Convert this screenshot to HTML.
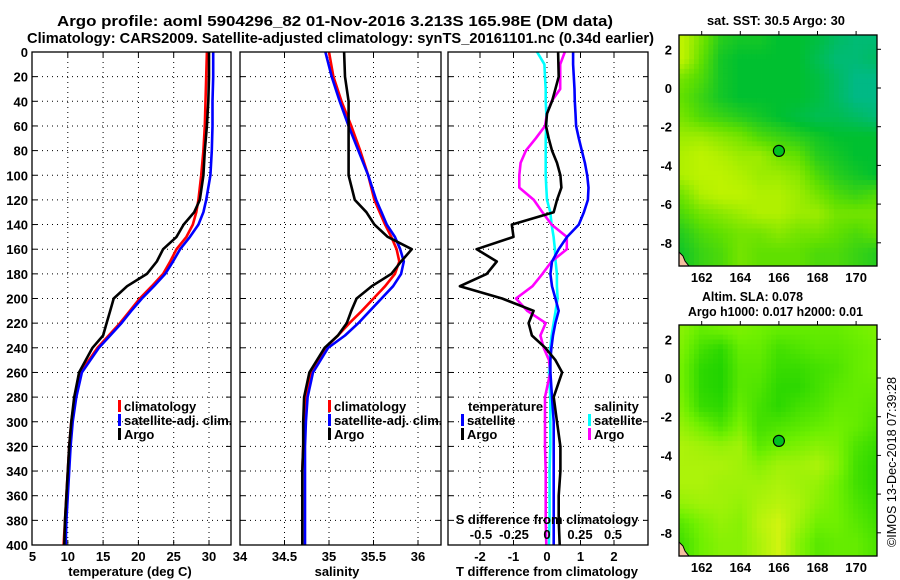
<!DOCTYPE html>
<html><head><meta charset="utf-8"><style>
html,body{margin:0;padding:0;background:#fff;}
svg{display:block;font-family:"Liberation Sans",Arial,sans-serif;font-weight:bold;}
</style></head><body>
<svg id="fig" width="900" height="580" viewBox="0 0 900 580" xmlns="http://www.w3.org/2000/svg">
<rect x="0" y="0" width="900" height="580" fill="#fff"/>
<text x="57" y="26" font-size="15" textLength="556" lengthAdjust="spacingAndGlyphs">Argo profile: aoml 5904296_82 01-Nov-2016 3.213S 165.98E (DM data)</text>
<text x="27" y="43" font-size="15" textLength="627" lengthAdjust="spacingAndGlyphs">Climatology: CARS2009. Satellite-adjusted climatology: synTS_20161101.nc (0.34d earlier)</text>
<g id="g1"></g>
<g id="g2"></g>
<g id="g3"></g>
<g id="m1"></g>
<g id="m2"></g>
<text x="707" y="25" font-size="13" textLength="138" lengthAdjust="spacingAndGlyphs">sat. SST: 30.5 Argo: 30</text>
<text x="702" y="301" font-size="13" textLength="101" lengthAdjust="spacingAndGlyphs">Altim. SLA: 0.078</text>
<text x="688" y="316" font-size="13" textLength="175" lengthAdjust="spacingAndGlyphs">Argo h1000: 0.017 h2000: 0.01</text>
<text x="0" y="0" font-size="13" font-weight="normal" text-anchor="middle" transform="translate(896,462) rotate(-90)" textLength="170" lengthAdjust="spacingAndGlyphs">©IMOS 13-Dec-2018 07:39:28</text>
</svg>
<script>
// ---- profile data ----
const depthsP = [0,20,40,60,80,100,120,130,140,150,160,170,180,190,200,210,220,230,240,260,280,300,320,340,360,380,400];
const tempClim = [29.7,29.6,29.5,29.4,29.2,28.9,28.5,28.2,27.7,26.8,25.4,24.5,23.5,21.9,20.2,18.8,17.4,15.8,14.2,11.8,11.0,10.5,10.2,10.0,9.8,9.6,9.4];
const tempSat = [30.6,30.6,30.5,30.5,30.4,30.2,29.6,29.2,28.5,27.3,25.9,24.9,23.8,22.2,20.5,19.0,17.6,16.0,14.4,12.0,11.2,10.7,10.4,10.2,10.0,9.8,9.7];
const tempArgo = [30.0,30.0,29.9,29.7,29.4,29.2,28.7,27.9,26.4,25.4,23.5,22.6,21.2,18.4,16.5,16.0,15.5,15.0,13.5,11.6,10.9,10.5,10.2,10.0,9.8,9.6,9.5];
const salClim = [35.0,35.05,35.14,35.25,35.35,35.44,35.51,35.57,35.63,35.7,35.76,35.79,35.74,35.63,35.5,35.37,35.23,35.1,34.96,34.8,34.74,34.72,34.71,34.7,34.7,34.7,34.7];
const salSat = [34.96,35.03,35.12,35.22,35.33,35.44,35.53,35.59,35.65,35.74,35.8,35.84,35.81,35.72,35.59,35.46,35.33,35.18,34.99,34.82,34.76,34.74,34.73,34.73,34.73,34.73,34.73];
const salArgo = [35.17,35.18,35.22,35.22,35.22,35.22,35.29,35.42,35.51,35.66,35.93,35.81,35.7,35.48,35.31,35.25,35.2,35.1,34.95,34.78,34.72,34.71,34.71,34.7,34.7,34.7,34.7];
const depthsD = [0,10,20,30,40,50,60,70,80,90,100,110,120,130,140,150,160,170,180,190,200,210,220,230,240,250,260,280,300,320,340,360,380,400];
const tDiffSat = [0.78,0.78,0.8,0.82,0.83,0.85,0.87,0.95,1.04,1.13,1.2,1.24,1.22,1.1,0.95,0.6,0.35,0.15,0.1,0.15,0.25,0.35,0.25,0.18,0.13,0.1,0.1,0.15,0.2,0.2,0.2,0.2,0.2,0.2];
const tDiffArgo = [0.33,0.34,0.35,0.25,0.15,0.0,-0.03,0.05,0.15,0.3,0.4,0.43,0.3,0.2,-1.05,-1.0,-2.1,-1.5,-1.8,-2.6,-1.34,-0.4,-0.55,-0.45,-0.05,0.25,0.45,0.2,0.3,0.4,0.4,0.35,0.35,0.38];
const sDiffSat = [-0.075,-0.02,-0.015,-0.01,-0.01,-0.005,-0.005,-0.01,-0.01,-0.01,-0.01,-0.005,0.0,0.025,0.035,0.05,0.06,0.065,0.075,0.075,0.08,0.065,0.05,0.035,0.025,0.02,0.015,0.025,0.025,0.025,0.02,0.02,0.02,0.015];
const sDiffArgo = [0.135,0.1,0.1,0.1,0.035,0.0,-0.015,-0.085,-0.16,-0.2,-0.21,-0.21,-0.1,-0.035,0.035,0.15,0.15,0.035,-0.035,-0.11,-0.235,-0.15,-0.01,-0.05,-0.025,0.015,0.025,-0.015,-0.015,-0.015,-0.01,-0.01,-0.01,-0.005];
const depthTicks = [0,20,40,60,80,100,120,140,160,180,200,220,240,260,280,300,320,340,360,380,400];
const tempTicks = [5,10,15,20,25,30];
const salTicks = [34.5,35,35.5,36];
const salTickLabels = ["34","34.5","35","35.5","36"];
const tdTicks = [-2,-1,0,1,2];
const sdTickVals = [-0.5,-0.25,0,0.25,0.5];
const sdTickLabels = ["-0.5","-0.25","0","0.25","0.5"];
// ---- map data ----
const mapLons = [161,162,163,164,165,166,167,168,169,170,171];
const mapLats = [2.5,1.5,0.5,-0.5,-1.5,-2.5,-3.5,-4.5,-5.5,-6.5,-7.5,-8.5];
const lonTicks = [162,164,166,168,170];
const latTicks = [2,0,-2,-4,-6,-8];
const sstGrid = [
[0.8,0.6,0.4,0.35,0.35,0.3,0.3,0.25,0.15,0.1,0.1],
[0.8,0.55,0.35,0.3,0.3,0.3,0.3,0.2,0.1,0.1,0.15],
[0.6,0.5,0.35,0.3,0.3,0.3,0.3,0.25,0.15,0.05,0.05],
[0.55,0.45,0.35,0.3,0.3,0.3,0.3,0.25,0.15,0.05,0.05],
[0.6,0.5,0.45,0.4,0.35,0.3,0.25,0.2,0.2,0.15,0.1],
[0.7,0.7,0.65,0.6,0.5,0.45,0.4,0.35,0.3,0.3,0.3],
[0.75,0.8,0.75,0.7,0.7,0.6,0.55,0.4,0.35,0.3,0.3],
[0.75,0.8,0.8,0.75,0.7,0.7,0.65,0.5,0.4,0.35,0.3],
[0.6,0.75,0.8,0.8,0.75,0.75,0.7,0.6,0.5,0.45,0.5],
[0.5,0.6,0.65,0.7,0.75,0.75,0.7,0.7,0.6,0.6,0.6],
[0.4,0.5,0.55,0.6,0.6,0.65,0.6,0.6,0.55,0.5,0.55],
[0.35,0.45,0.5,0.6,0.55,0.55,0.55,0.5,0.5,0.45,0.4]];
const slaGrid = [
[0.6,0.45,0.5,0.55,0.5,0.45,0.45,0.45,0.45,0.5,0.55],
[0.55,0.3,0.2,0.45,0.45,0.3,0.35,0.4,0.4,0.45,0.5],
[0.5,0.2,0.15,0.4,0.4,0.25,0.25,0.3,0.35,0.45,0.5],
[0.5,0.2,0.15,0.4,0.35,0.2,0.2,0.3,0.4,0.45,0.45],
[0.55,0.25,0.2,0.45,0.3,0.2,0.3,0.35,0.45,0.45,0.4],
[0.65,0.5,0.35,0.55,0.3,0.35,0.4,0.45,0.5,0.45,0.35],
[0.75,0.7,0.65,0.7,0.4,0.5,0.55,0.6,0.55,0.35,0.25],
[0.75,0.75,0.75,0.7,0.6,0.7,0.7,0.75,0.6,0.3,0.2],
[0.75,0.75,0.7,0.7,0.7,0.75,0.7,0.65,0.5,0.3,0.2],
[0.65,0.7,0.7,0.65,0.75,0.8,0.75,0.6,0.5,0.35,0.25],
[0.4,0.55,0.65,0.6,0.8,0.9,0.7,0.5,0.5,0.4,0.3],
[0.3,0.5,0.6,0.6,0.75,0.9,0.6,0.4,0.45,0.45,0.35]];
const argoLon = 166.0, argoLat = -3.25;

const NS = "http://www.w3.org/2000/svg";
function mk(parent, tag, attrs, text){
  const e = document.createElementNS(NS, tag);
  for (const k in attrs) e.setAttribute(k, attrs[k]);
  if (text !== undefined) e.textContent = text;
  parent.appendChild(e); return e;
}
const Y0 = 52, Y1 = 545;
const yD = p => Y0 + p * (Y1 - Y0) / 400;
const xT = t => 32.5 + (t - 5) * 7.06;
const xS = s => 240 + (s - 34) * 89;
const xTd = d => 547 + d * 33.5;
const xSd = d => 547 + d * 132;

function frame(g, x0, x1, vticks, name){
  for (const v of vticks){
    const l = mk(g,'line',{x1:v,x2:v,y1:Y0,y2:Y1,stroke:'#000','stroke-width':1,'stroke-dasharray':'1 4'});
    
    
    mk(g,'line',{x1:v,x2:v,y1:Y0,y2:Y0+5,stroke:'#000'});
    mk(g,'line',{x1:v,x2:v,y1:Y1-5,y2:Y1,stroke:'#000'});
  }
  for (const p of depthTicks){
    if (p===0||p===400) continue;
    const y = yD(p);
    const l = mk(g,'line',{x1:x0,x2:x1,y1:y,y2:y,stroke:'#000','stroke-width':1,'stroke-dasharray':'1 4'});
    
    
    mk(g,'line',{x1:x0,x2:x0+5,y1:y,y2:y,stroke:'#000'});
    mk(g,'line',{x1:x1-5,x2:x1,y1:y,y2:y,stroke:'#000'});
  }
}
function border(g, x0, x1, name){
  const r = mk(g,'rect',{x:x0,y:Y0,width:x1-x0,height:Y1-Y0,fill:'none',stroke:'#000','stroke-width':1.3});
  
  
}
function line(g, xs, ys, fx, color, name, clipId){
  const pts = xs.map((v,i)=>fx(v).toFixed(1)+','+yD(ys[i]).toFixed(1)).join(' ');
  const pl = mk(g,'polyline',{points:pts,fill:'none',stroke:color,'stroke-width':2.6,'stroke-linejoin':'round'});
  if (clipId) pl.setAttribute('clip-path','url(#'+clipId+')');
  
  
}
function txt(g, x, y, s, opts, name){
  const t = mk(g,'text',Object.assign({x:x,y:y,'font-size':13},opts||{}), s);
  
  
  return t;
}
function legend(g, x, y, color, label, name){
  const r = mk(g,'rect',{x:x,y:y-11,width:3,height:12,fill:color});
  
  
  txt(g, x+6, y, label, {}, name+'-label');
}
const svg = document.getElementById('fig');
const defs = mk(svg,'defs',{});
[['c1',32,231],['c2',240,441],['c3',448,648]].forEach(c=>{
  const cp = mk(defs,'clipPath',{id:c[0]}); mk(cp,'rect',{x:c[1],y:Y0,width:c[2]-c[1],height:Y1-Y0});
});

// Panel 1
const g1 = document.getElementById('g1');
frame(g1, 32, 231, tempTicks.slice(1).map(xT), 'temp');
line(g1, tempClim, depthsP, xT, '#ff0000', 'temp-climatology-line', 'c1');
line(g1, tempSat, depthsP, xT, '#0000ff', 'temp-satellite-line', 'c1');
line(g1, tempArgo, depthsP, xT, '#000000', 'temp-argo-line', 'c1');
border(g1, 32, 231, 'temp');
depthTicks.forEach(p => txt(g1, 28, yD(p)+5, String(p), {'text-anchor':'end'}, 'depth-tick-label'));
tempTicks.forEach(t => txt(g1, xT(t), 561, String(t), {'text-anchor':'middle'}, 'temp-tick-label'));
txt(g1, 130, 576, 'temperature (deg C)', {'text-anchor':'middle'}, 'temp-axis-title');
legend(g1, 118, 411, '#ff0000', 'climatology', 'legend-temp-climatology');
legend(g1, 118, 425, '#0000ff', 'satellite-adj. clim.', 'legend-temp-satellite');
legend(g1, 118, 439, '#000000', 'Argo', 'legend-temp-argo');

// Panel 2
const g2 = document.getElementById('g2');
frame(g2, 240, 441, salTicks.map(xS), 'sal');
line(g2, salClim, depthsP, xS, '#ff0000', 'sal-climatology-line', 'c2');
line(g2, salSat, depthsP, xS, '#0000ff', 'sal-satellite-line', 'c2');
line(g2, salArgo, depthsP, xS, '#000000', 'sal-argo-line', 'c2');
border(g2, 240, 441, 'sal');
[34].concat(salTicks).forEach((s,i) => txt(g2, xS(s), 561, salTickLabels[i], {'text-anchor':'middle'}, 'sal-tick-label'));
txt(g2, 337, 576, 'salinity', {'text-anchor':'middle'}, 'sal-axis-title');
legend(g2, 328, 411, '#ff0000', 'climatology', 'legend-sal-climatology');
legend(g2, 328, 425, '#0000ff', 'satellite-adj. clim.', 'legend-sal-satellite');
legend(g2, 328, 439, '#000000', 'Argo', 'legend-sal-argo');

// Panel 3
const g3 = document.getElementById('g3');
frame(g3, 448, 648, tdTicks.map(xTd), 'diff');
line(g3, sDiffSat, depthsD, xSd, '#00ffff', 'sdiff-satellite-line', 'c3');
line(g3, sDiffArgo, depthsD, xSd, '#ff00ff', 'sdiff-argo-line', 'c3');
line(g3, tDiffSat, depthsD, xTd, '#0000ff', 'tdiff-satellite-line', 'c3');
line(g3, tDiffArgo, depthsD, xTd, '#000000', 'tdiff-argo-line', 'c3');
border(g3, 448, 648, 'diff');
tdTicks.forEach(t => txt(g3, xTd(t), 561, String(t), {'text-anchor':'middle'}, 'tdiff-tick-label'));
txt(g3, 547, 576, 'T difference from climatology', {'text-anchor':'middle'}, 'tdiff-axis-title');
txt(g3, 547, 524, 'S difference from climatology', {'text-anchor':'middle'}, 'sdiff-axis-title');
sdTickVals.forEach((s,i) => txt(g3, xSd(s), 539, sdTickLabels[i], {'text-anchor':'middle'}, 'sdiff-tick-label'));
txt(g3, 468, 411, 'temperature', {}, 'legend-temperature-heading');
txt(g3, 594, 411, 'salinity', {}, 'legend-salinity-heading');
legend(g3, 461, 425, '#0000ff', 'satellite', 'legend-tdiff-satellite');
legend(g3, 461, 439, '#000000', 'Argo', 'legend-tdiff-argo');
legend(g3, 588, 425, '#00ffff', 'satellite', 'legend-sdiff-satellite');
legend(g3, 588, 439, '#ff00ff', 'Argo', 'legend-sdiff-argo');

// Maps
function interp(grid, lon, lat){
  let fi = (lon - mapLons[0]); fi = Math.max(0, Math.min(mapLons.length-1.001, fi));
  let fj = (mapLats[0] - lat); fj = Math.max(0, Math.min(mapLats.length-1.001, fj));
  const i = Math.floor(fi), j = Math.floor(fj), a = fi-i, b = fj-j;
  return grid[j][i]*(1-a)*(1-b)+grid[j][i+1]*a*(1-b)+grid[j+1][i]*(1-a)*b+grid[j+1][i+1]*a*b;
}
function cmap(stops, v){
  for (let k=1;k<stops.length;k++){
    if (v <= stops[k][0] || k===stops.length-1){
      const s0=stops[k-1], s1=stops[k]; let f=(v-s0[0])/(s1[0]-s0[0]); f=Math.max(0,Math.min(1,f));
      const c=[0,1,2].map(q=>Math.round(s0[1][q]+(s1[1][q]-s0[1][q])*f));
      return 'rgb('+c.join(',')+')';
    }
  }
}
const sstStops = [[0,[0,184,150]],[0.3,[0,192,48]],[0.55,[96,224,0]],[0.75,[176,240,0]],[1,[240,255,0]]];
const slaStops = [[0,[0,200,0]],[0.5,[112,240,0]],[1,[232,245,20]]];
function drawMap(id, grid, stops, yZero, step, name){
  const g = document.getElementById(id);
  const X0 = 679, X1 = 877;
  const xL = lon => 701.7 + (lon - 162) * 19.3;
  const yL = lat => yZero - lat * 19.35;
  const top = yL(2.74), bot = yL(-9.2);
  const lon0 = 160.85, lat0 = 2.74;
  for (let lat = lat0; lat > -9.2; lat -= step){
    for (let lon = lon0; lon < 171.1; lon += step){
      const v = interp(grid, lon + step/2, lat - step/2);
      const x = xL(lon), y = yL(lat);
      const r = mk(g,'rect',{x:x.toFixed(2),y:y.toFixed(2),width:(Math.min(step*19.3, X1-x)+0.4).toFixed(2),height:(Math.min(step*19.35, bot-y)+0.4).toFixed(2),fill:cmap(stops,v)});
      
      
    }
  }
  const land = mk(g,'polygon',{points:`${X0},${bot-14} ${X0+4},${bot-10} ${X0+6},${bot-5} ${X0+10},${bot} ${X0},${bot}`,fill:'#f4c0a0',stroke:'#000','stroke-width':1});
  
  
  const c = mk(g,'circle',{cx:xL(argoLon),cy:yL(argoLat),r:5.5,fill:'#00c020',stroke:'#000','stroke-width':1.2});
  
  
  const fr = mk(g,'rect',{x:X0,y:top,width:X1-X0,height:bot-top,fill:'none',stroke:'#000','stroke-width':1.3});
  
  
  lonTicks.forEach(l=>{
    mk(g,'line',{x1:xL(l),x2:xL(l),y1:top-4,y2:top,stroke:'#000'});
    txt(g, xL(l), bot+16, String(l), {'text-anchor':'middle'}, name+'-lon-label');
  });
  latTicks.forEach(l=>{
    mk(g,'line',{x1:X1,x2:X1+4,y1:yL(l),y2:yL(l),stroke:'#000'});
    txt(g, 672, yL(l)+5, String(l), {'text-anchor':'end'}, name+'-lat-label');
  });
}
drawMap('m1', sstGrid, sstStops, 88, 0.25, 'sst-map');
drawMap('m2', slaGrid, slaStops, 378, 0.25, 'sla-map');
</script>
</body></html>
